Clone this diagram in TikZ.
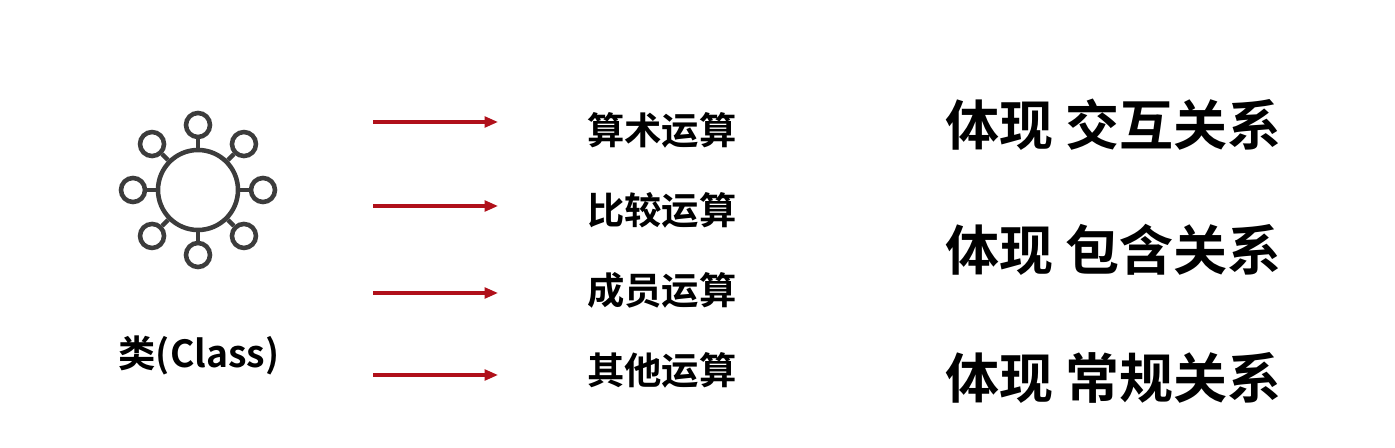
\documentclass[tikz,border=0pt]{standalone}
\usepackage{fontspec}
\newfontfamily\cjk{Noto Sans CJK SC Bold}
\usetikzlibrary{arrows.meta}
\definecolor{icon}{HTML}{3C3C3C}
\definecolor{arr}{HTML}{B0101A}
\tikzset{
 op/.style={font=\cjk\fontsize{28}{32}\selectfont, anchor=west, inner sep=0},
 rel/.style={font=\cjk\fontsize{40.5}{44}\selectfont, anchor=west, inner sep=0},
 redarrow/.style={draw=arr, line width=2.3pt, -{Triangle[length=10pt,width=8pt]}},
 iconc/.style={circle, draw=icon, line width=3.4pt, inner sep=0}
}
\begin{document}
\begin{tikzpicture}[x=0.75pt,y=-0.75pt]
\useasboundingbox[fill=white] (0,0) rectangle (1395,448);
% icon
\node[iconc, minimum size=60pt] (core) at (198,190) {};
\foreach \a [count=\i] in {90,45,0,-45,-90,-135,180,135}{
  \node[iconc, minimum size=18pt] (s\i) at ([shift={(\a:65)}]198,190) {};
  \draw[icon, line width=3.4pt] (core) -- (s\i);
}
\node[font=\cjk\fontsize{28}{32}\selectfont, inner sep=0] (cls) at (199,355) {类(Class)};
% arrows
\foreach \y [count=\i] in {122,206,293,375}{
  \coordinate (a\i) at (373,\y);
  \coordinate (b\i) at (498,\y);
  \draw[redarrow] (a\i) -- (b\i);
}
\node[op] (o1) at (587,130) {算术运算};
\node[op] (o2) at (587,210) {比较运算};
\node[op] (o3) at (587,290) {成员运算};
\node[op] (o4) at (587,370) {其他运算};
\node[rel] (r1) at (945,125) {体现 交互关系};
\node[rel] (r2) at (945,250) {体现 包含关系};
\node[rel] (r3) at (945,378) {体现 常规关系};
\end{tikzpicture}
\end{document}
